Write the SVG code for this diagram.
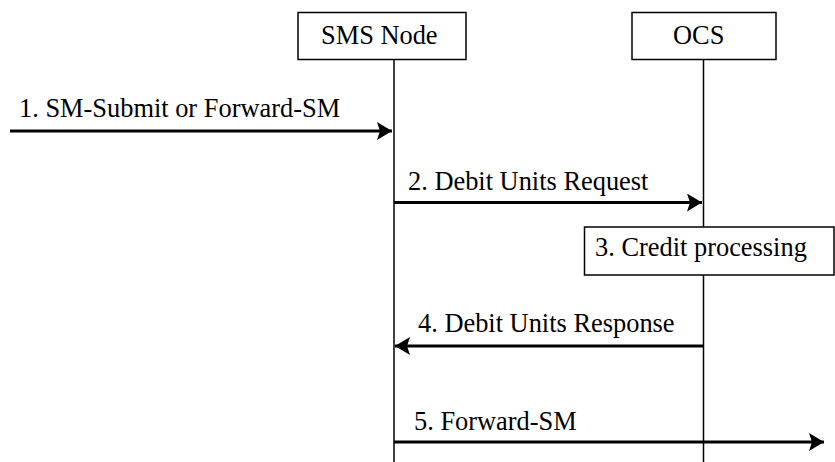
<svg xmlns="http://www.w3.org/2000/svg" width="835" height="462" viewBox="0 0 835 462">
<style>
text{font-family:'Liberation Serif','Times New Roman',serif;font-size:26.4px;fill:#000}
.box{fill:#fff;stroke:#000;stroke-width:1.5}
.life{stroke:#000;stroke-width:1.5;fill:none}
.msg{stroke:#000;stroke-width:3;fill:none}
</style>
<defs>
<marker id="ah" viewBox="0 0 15 18" refX="15" refY="9" markerWidth="15" markerHeight="18" markerUnits="userSpaceOnUse" orient="auto">
<path d="M0,0 L15,9 L0,18 L3,9 Z" fill="#000"/>
</marker>
</defs>
<g id="lifelines">
<line class="life" x1="394" y1="59" x2="394" y2="462"/>
<line class="life" x1="703.5" y1="59" x2="703.5" y2="462"/>
</g>
<g id="node-sms">
<rect class="box" x="298" y="12.5" width="168" height="47"/>
<text x="321" y="44">SMS Node</text>
</g>
<g id="node-ocs">
<rect class="box" x="632" y="12.5" width="144" height="47"/>
<text x="673" y="44">OCS</text>
</g>
<g id="node-credit">
<rect class="box" x="584.5" y="227" width="249.5" height="48"/>
<text x="595" y="256">3. Credit processing</text>
</g>
<g id="connectors">
<line class="msg" x1="10" y1="131" x2="392" y2="131" marker-end="url(#ah)"/>
<line class="msg" x1="394" y1="202.5" x2="702" y2="202.5" marker-end="url(#ah)"/>
<line class="msg" x1="703.5" y1="346" x2="395" y2="346" marker-end="url(#ah)"/>
<line class="msg" x1="394" y1="442" x2="824" y2="442" marker-end="url(#ah)"/>
</g>
<g id="labels">
<text x="19" y="117">1. SM-Submit or Forward-SM</text>
<text x="408" y="190">2. Debit Units Request</text>
<text x="418" y="332">4. Debit Units Response</text>
<text x="414" y="430">5. Forward-SM</text>
</g>
</svg>
